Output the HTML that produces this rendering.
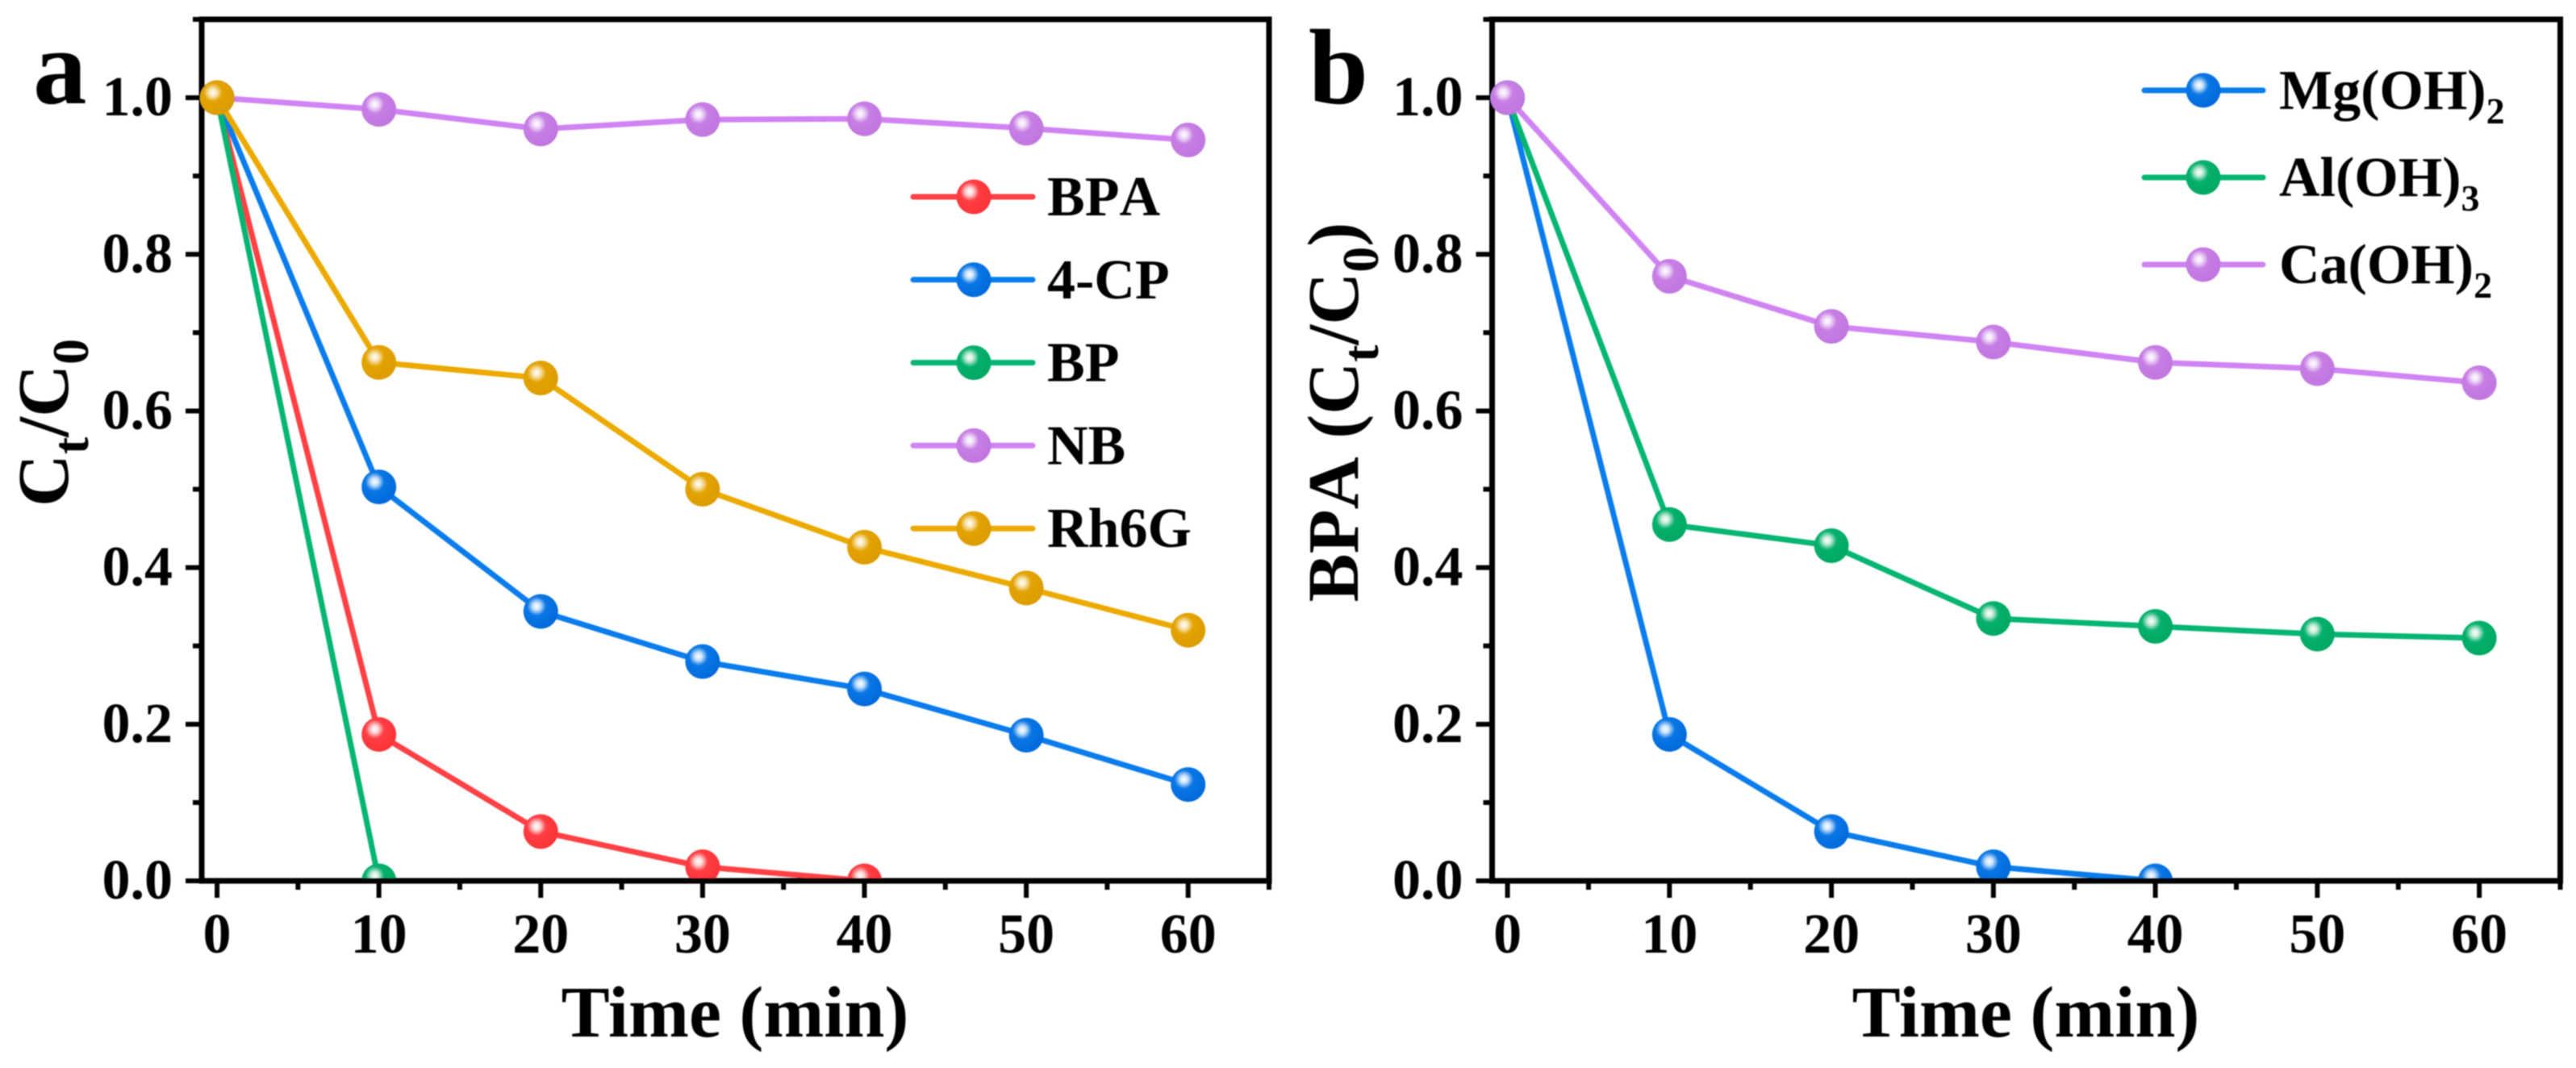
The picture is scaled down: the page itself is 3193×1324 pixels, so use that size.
<!DOCTYPE html>
<html lang="en">
<head>
<meta charset="utf-8">
<title>Ct/C0 versus time, panels a and b</title>
<style>
  html, body { margin: 0; padding: 0; background: #fff; }
  body { width: 3193px; height: 1324px; overflow: hidden; }
  #figure { display: block; filter: blur(0.9px); }
  text { font-family: "Liberation Serif", "Times New Roman", serif; font-weight: bold; fill: #000; }
  .no-kern { font-kerning: none; }
</style>
</head>
<body>
<svg id="figure" xmlns="http://www.w3.org/2000/svg" width="3193" height="1324" viewBox="0 0 3193 1324">
  <defs>
    <radialGradient id="ball-red" cx="0.38" cy="0.35" r="0.68"><stop offset="0" stop-color="#fff"/><stop offset="0.16" stop-color="#ffd8d8"/><stop offset="0.4" stop-color="#ff3d42"/><stop offset="1" stop-color="#fb3338"/></radialGradient>
    <radialGradient id="ball-blue" cx="0.38" cy="0.35" r="0.68"><stop offset="0" stop-color="#fff"/><stop offset="0.16" stop-color="#c8e2fb"/><stop offset="0.4" stop-color="#0a76e4"/><stop offset="1" stop-color="#0069dc"/></radialGradient>
    <radialGradient id="ball-green" cx="0.38" cy="0.35" r="0.68"><stop offset="0" stop-color="#fff"/><stop offset="0.16" stop-color="#c8ecdc"/><stop offset="0.4" stop-color="#05b06c"/><stop offset="1" stop-color="#00a862"/></radialGradient>
    <radialGradient id="ball-purple" cx="0.38" cy="0.35" r="0.68"><stop offset="0" stop-color="#fff"/><stop offset="0.16" stop-color="#f0ddf8"/><stop offset="0.4" stop-color="#c67de4"/><stop offset="1" stop-color="#c076de"/></radialGradient>
    <radialGradient id="ball-orange" cx="0.38" cy="0.35" r="0.68"><stop offset="0" stop-color="#fff"/><stop offset="0.16" stop-color="#f8e6b8"/><stop offset="0.4" stop-color="#e2a200"/><stop offset="1" stop-color="#dc9c00"/></radialGradient>
    <clipPath id="clip-a"><rect x="200" y="20" width="1400" height="1069"/></clipPath>
    <clipPath id="clip-b"><rect x="1800" y="20" width="1400" height="1069"/></clipPath>
  </defs>

  <g id="panel-a"></g>
  <g id="panel-b"></g>

  <text x="41" y="128" font-size="133">a</text>
  <text x="1622" y="128" font-size="133">b</text>

  <text x="911" y="1285" font-size="90" text-anchor="middle">Time (min)</text>
  <text x="2511" y="1285" font-size="90" text-anchor="middle">Time (min)</text>

  <text transform="translate(84 524) rotate(-90)" font-size="90" text-anchor="middle">C<tspan font-size="64" dy="25">t</tspan><tspan dy="-25">/C</tspan><tspan font-size="64" dy="25">0</tspan></text>
  <text class="no-kern" transform="translate(1683 511) rotate(-90)" font-size="90" text-anchor="middle">BPA (C<tspan font-size="64" dy="25">t</tspan><tspan dy="-25">/C</tspan><tspan font-size="64" dy="25">0</tspan><tspan dy="-25">)</tspan></text>
</svg>

<script>
// ---- shared axis values ----
const timeValues = [0, 10, 20, 30, 40, 50, 60];
const xTickLabels = ['0', '10', '20', '30', '40', '50', '60'];
const xMajorTicks = [0, 10, 20, 30, 40, 50, 60];
const xMinorTicks = [5, 15, 25, 35, 45, 55, 65];
const yMajorTicks = [0, 0.2, 0.4, 0.6, 0.8, 1.0];
const yTickLabels = ['0.0', '0.2', '0.4', '0.6', '0.8', '1.0'];
const yMinorTicks = [0.1, 0.3, 0.5, 0.7, 0.9, 1.1];

// ---- panel a series ----
const seriesNamesA = ['BPA', '4-CP', 'BP', 'NB', 'Rh6G'];
const bpaValuesA = [1, 0.187, 0.063, 0.018, 0];
const cpValuesA = [1, 0.503, 0.344, 0.28, 0.245, 0.186, 0.123];
const bpValuesA = [1, 0];
const nbValuesA = [1, 0.985, 0.96, 0.972, 0.973, 0.961, 0.946];
const rhValuesA = [1, 0.662, 0.642, 0.5, 0.426, 0.374, 0.32];

// ---- panel b series ----
const seriesNamesB = ['Mg(OH)', 'Al(OH)', 'Ca(OH)'];
const seriesSubsB = ['2', '3', '2'];
const mgValuesB = [1, 0.187, 0.063, 0.018, 0];
const alValuesB = [1, 0.455, 0.428, 0.335, 0.325, 0.315, 0.31];
const caValuesB = [1, 0.772, 0.708, 0.688, 0.662, 0.654, 0.636];

const COLORS = {
  red:    { line: '#ff4044', ball: 'url(#ball-red)' },
  blue:   { line: '#0a7ceb', ball: 'url(#ball-blue)' },
  green:  { line: '#06b572', ball: 'url(#ball-green)' },
  purple: { line: '#d083f2', ball: 'url(#ball-purple)' },
  orange: { line: '#ecaa00', ball: 'url(#ball-orange)' }
};

const NS = 'http://www.w3.org/2000/svg';
const X_DOMAIN = [-0.95, 65];
const Y_DOMAIN = [0, 1.1];
const PLOT_TOP = 24;
const PLOT_BOTTOM = 1092;
const MARKER_R = 21.5;

function make(tag, attrs, parent) {
  const el = document.createElementNS(NS, tag);
  for (const k in attrs) el.setAttribute(k, attrs[k]);
  parent.appendChild(el);
  return el;
}

function drawAxes(root, left, right, xPx, yPx, key) {
  const axes = make('g', { stroke: '#000', 'stroke-linecap': 'butt' }, root);
  
  

  const frame = make('rect', {
    x: left, y: PLOT_TOP, width: right - left, height: PLOT_BOTTOM - PLOT_TOP,
    fill: 'none', 'stroke-width': 7
  }, axes);
  
  

  xMajorTicks.forEach(function (v, i) {
    const tick = make('line', { x1: xPx(v), x2: xPx(v), y1: PLOT_BOTTOM, y2: PLOT_BOTTOM + 21, 'stroke-width': 6 }, axes);
    
    
    const label = make('text', { x: xPx(v), y: 1181, 'font-size': 70, 'text-anchor': 'middle', stroke: 'none' }, root);
    label.textContent = xTickLabels[i];
    
    
  });
  xMinorTicks.forEach(function (v) {
    const tick = make('line', { x1: xPx(v), x2: xPx(v), y1: PLOT_BOTTOM, y2: PLOT_BOTTOM + 11, 'stroke-width': 6 }, axes);
    
    
  });
  yMajorTicks.forEach(function (v, i) {
    const tick = make('line', { x1: left - 20, x2: left, y1: yPx(v), y2: yPx(v), 'stroke-width': 6 }, axes);
    
    
    const label = make('text', { x: left - 36, y: yPx(v) + 22, 'font-size': 70, 'text-anchor': 'end', stroke: 'none' }, root);
    label.textContent = yTickLabels[i];
    
    
  });
  yMinorTicks.forEach(function (v) {
    const tick = make('line', { x1: left - 11, x2: left, y1: yPx(v), y2: yPx(v), 'stroke-width': 6 }, axes);
    
    
  });
}

function drawSeries(root, values, color, name, xPx, yPx, clipId) {
  const group = make('g', { 'clip-path': 'url(#' + clipId + ')' }, root);
  
  

  const pts = values.map(function (v, i) { return xPx(timeValues[i]) + ',' + yPx(v); }).join(' ');
  const line = make('polyline', { points: pts, fill: 'none', stroke: color.line, 'stroke-width': 7, 'stroke-linejoin': 'round' }, group);
  
  

  values.forEach(function (v, i) {
    const dot = make('circle', { cx: xPx(timeValues[i]), cy: yPx(v), r: MARKER_R, fill: color.ball }, group);
    
    
  });
}

function drawLegendEntry(root, name, sub, color, lineX1, lineX2, ballX, textX, y, subBelow) {
  const entry = make('g', {}, root);
  
  

  const swatch = make('line', { x1: lineX1, x2: lineX2, y1: y, y2: y, stroke: color.line, 'stroke-width': 7, 'stroke-linecap': 'round' }, entry);
  
  

  const ball = make('circle', { cx: ballX, cy: y, r: MARKER_R, fill: color.ball }, entry);
  
  

  const label = make('text', { x: textX, y: y + 23, 'font-size': 70, class: 'no-kern' }, entry);
  label.textContent = name;
  
  
  if (sub) {
    const s = make('tspan', { 'font-size': 46, dy: subBelow }, label);
    s.textContent = sub;
  }
}

function scales(left, right) {
  return {
    x: function (v) { return left + (v - X_DOMAIN[0]) / (X_DOMAIN[1] - X_DOMAIN[0]) * (right - left); },
    y: function (v) { return PLOT_BOTTOM - (v - Y_DOMAIN[0]) / (Y_DOMAIN[1] - Y_DOMAIN[0]) * (PLOT_BOTTOM - PLOT_TOP); }
  };
}

// Panel a
(function () {
  const root = document.getElementById('panel-a');
  const s = scales(250, 1573);
  drawAxes(root, 250, 1573, s.x, s.y, 'a');
  const seriesA = [bpaValuesA, cpValuesA, bpValuesA, nbValuesA, rhValuesA];
  const colorsA = [COLORS.red, COLORS.blue, COLORS.green, COLORS.purple, COLORS.orange];
  seriesA.forEach(function (vals, i) {
    drawSeries(root, vals, colorsA[i], seriesNamesA[i], s.x, s.y, 'clip-a');
  });
  seriesNamesA.forEach(function (n, i) {
    drawLegendEntry(root, n, '', colorsA[i], 1132, 1280, 1207, 1298, 244 + i * 102.8, 0);
  });
})();

// Panel b
(function () {
  const root = document.getElementById('panel-b');
  const s = scales(1849.5, 3173.5);
  drawAxes(root, 1849.5, 3173.5, s.x, s.y, 'b');
  const seriesB = [mgValuesB, alValuesB, caValuesB];
  const colorsB = [COLORS.blue, COLORS.green, COLORS.purple];
  seriesB.forEach(function (vals, i) {
    drawSeries(root, vals, colorsB[i], seriesNamesB[i], s.x, s.y, 'clip-b');
  });
  seriesNamesB.forEach(function (n, i) {
    drawLegendEntry(root, n, seriesSubsB[i], colorsB[i], 2658, 2805, 2731, 2825, 112 + i * 108, 18);
  });
})();
</script>
</body>
</html>
